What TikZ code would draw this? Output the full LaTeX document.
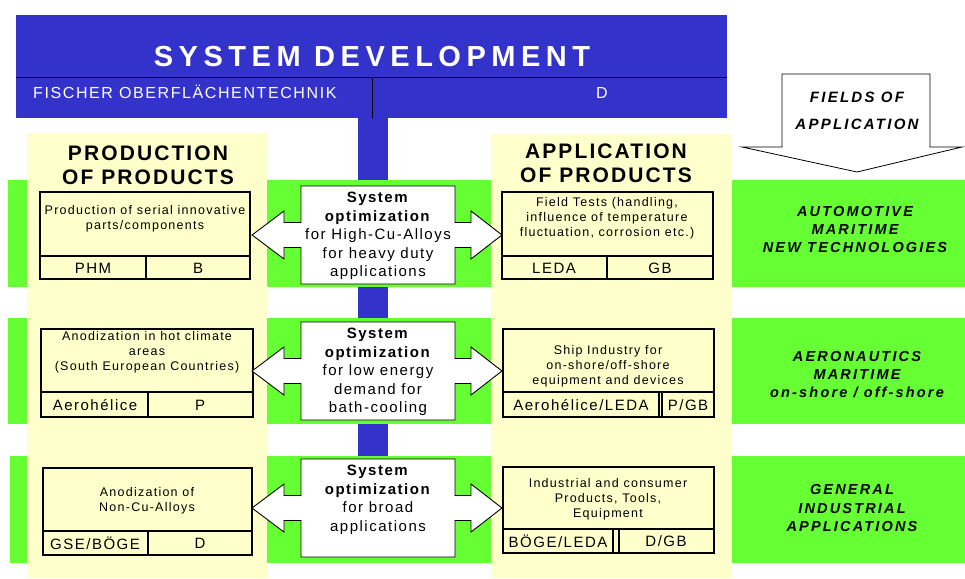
\documentclass[tikz,border=0pt]{standalone}
\usepackage{fontspec}
\setmainfont{Liberation Sans}[LetterSpace=10]
\newfontfamily\headfont{Liberation Sans}[LetterSpace=19]
\newfontfamily\fieldfont{Liberation Sans}[LetterSpace=15]
\definecolor{sysblue}{RGB}{51,51,204}
\definecolor{fieldgreen}{RGB}{102,255,51}
\definecolor{colyellow}{RGB}{255,255,204}
\tikzstyle{cell}=[draw, line width=1.2pt]
\tikzstyle{celltext}=[align=center, inner sep=0pt, font=\fontsize{12.5}{15}\selectfont]
\tikzstyle{celllabel}=[inner sep=0pt, font=\fontsize{15}{16}\selectfont]
\tikzstyle{coltitle}=[align=center, inner sep=0pt, font=\bfseries\fontsize{21}{24}\selectfont]
\tikzstyle{headtitle}=[inner sep=0pt, text=white, font=\headfont\bfseries\fontsize{29}{32}\selectfont]
\tikzstyle{headsub}=[inner sep=0pt, text=white, font=\fontsize{16}{18}\selectfont]
\tikzstyle{opttext}=[align=center, inner sep=0pt, font=\fontsize{15}{18.5}\selectfont]
\tikzstyle{fieldtext}=[align=center, inner sep=0pt, font=\fieldfont\bfseries\itshape\fontsize{14.5}{18}\selectfont]
\tikzstyle{fieldhead}=[align=center, inner sep=0pt, font=\fieldfont\bfseries\itshape\fontsize{15}{27}\selectfont]
\tikzstyle{optarrow}=[draw, fill=white, line width=0.9pt, line join=miter]
% double arrow with a wide middle box, #1 is the row's mid line
\newcommand{\optarrow}[1]{%
  \draw[optarrow] (252,#1) -- (284,#1-24) -- (284,#1-12.5) -- (301,#1-12.5)
    -- (301,#1-49) -- (455,#1-49) -- (455,#1-12.5) -- (471,#1-12.5)
    -- (471,#1-24) -- (502,#1) -- (471,#1+24) -- (471,#1+12.5)
    -- (455,#1+12.5) -- (455,#1+49) -- (301,#1+49) -- (301,#1+12.5)
    -- (284,#1+12.5) -- (284,#1+24) -- cycle;}

\begin{document}
\begin{tikzpicture}[x=1pt,y=-1pt]
\useasboundingbox (0,0) rectangle (965,578);

% spine, green bands and the two columns
\fill[sysblue] (358,110) rectangle (388,500);
\fill[fieldgreen] (8,180) rectangle (965,287);
\fill[fieldgreen] (8,318) rectangle (965,424);
\fill[fieldgreen] (10,456) rectangle (965,563);
\fill[colyellow] (27,133) rectangle (267,578);
\fill[colyellow] (491,134) rectangle (732,578);

% header
\fill[sysblue] (16,15) rectangle (727,118);
\draw[line width=0.8pt] (16,77) -- (727,77) (372,77) -- (372,118);
\node[headtitle] (sysdev) at (372,57) {SYSTEM DEVELOPMENT};
\node[headsub, anchor=west] (fischer) at (33,92) {FISCHER OBERFLÄCHENTECHNIK};
\node[headsub] (country) at (602,93) {D};

% fields of application
\draw[line width=0.8pt, fill=white] (782,74) -- (930,74) -- (930,147) -- (962,147)
  -- (857,172) -- (742,147) -- (782,147) -- cycle;
\node[fieldhead] (fields) at (857,111) {FIELDS OF\\APPLICATION};

% column titles
\node[coltitle] (prodtitle) at (148,165) {PRODUCTION\\OF PRODUCTS};
\node[coltitle] (apptitle) at (606,163) {APPLICATION\\OF PRODUCTS};

% row 1
\draw[cell] (40,192) rectangle (250,279) (40,256) -- (250,256) (146,256) -- (146,279);
\node[celltext] (prod1) at (145,219) {Production of serial innovative\\parts/components};
\node[celllabel] (prod1a) at (93,268) {PHM};
\node[celllabel] (prod1b) at (198,268) {B};
\draw[cell] (502,192) rectangle (713,279) (502,256) -- (713,256) (607,256) -- (607,279);
\node[celltext] (app1) at (607,218) {Field Tests (handling,\\influence of temperature\\fluctuation, corrosion etc.)};
\node[celllabel] (app1a) at (554,268) {LEDA};
\node[celllabel] (app1b) at (660,268) {GB};
\optarrow{235}
\node[opttext] (opt1) at (378,236) {\textbf{System}\\\textbf{optimization}\\for High-Cu-Alloys\\for heavy duty\\applications};
\node[fieldtext] (field1) at (855,230) {AUTOMOTIVE\\MARITIME\\NEW TECHNOLOGIES};

% row 2
\draw[cell] (41,329) rectangle (253,417) (41,392) -- (253,392) (148,392) -- (148,417);
\node[celltext] (prod2) at (147,352) {Anodization in hot climate\\areas\\(South European Countries)};
\node[celllabel] (prod2a) at (95,405) {Aerohélice};
\node[celllabel] (prod2b) at (200,405) {P};
\draw[cell] (503,329) rectangle (714,417) (503,392) -- (714,392)
  (659,392) -- (659,417) (662,392) -- (662,417);
\node[celltext] (app2) at (608,366) {Ship Industry for\\on-shore/off-shore\\equipment and devices};
\node[celllabel] (app2a) at (581,405) {Aerohélice/LEDA};
\node[celllabel] (app2b) at (688,405) {P/GB};
\optarrow{371}
\node[opttext] (opt2) at (378,372) {\textbf{System}\\\textbf{optimization}\\for low energy\\demand for\\bath-cooling};
\node[fieldtext] (field2) at (857,375) {AERONAUTICS\\MARITIME\\on-shore / off-shore};

% row 3
\draw[cell] (43,468) rectangle (252,555) (43,531) -- (252,531) (148,531) -- (148,555);
\node[celltext] (prod3) at (147,501) {Anodization of\\Non-Cu-Alloys};
\node[celllabel] (prod3a) at (95,543) {GSE/BÖGE};
\node[celllabel] (prod3b) at (200,543) {D};
\draw[cell] (503,467) rectangle (714,553) (503,529) -- (714,529)
  (613,529) -- (613,553) (619,529) -- (619,553);
\node[celltext] (app3) at (608,499) {Industrial and consumer\\Products, Tools,\\Equipment};
\node[celllabel] (app3a) at (558,541) {BÖGE/LEDA};
\node[celllabel] (app3b) at (666,541) {D/GB};
\optarrow{508}
\node[opttext] (opt3) at (378,500) {\textbf{System}\\\textbf{optimization}\\for broad\\applications};
\node[fieldtext] (field3) at (852,508) {GENERAL\\INDUSTRIAL\\APPLICATIONS};
\end{tikzpicture}
\end{document}
